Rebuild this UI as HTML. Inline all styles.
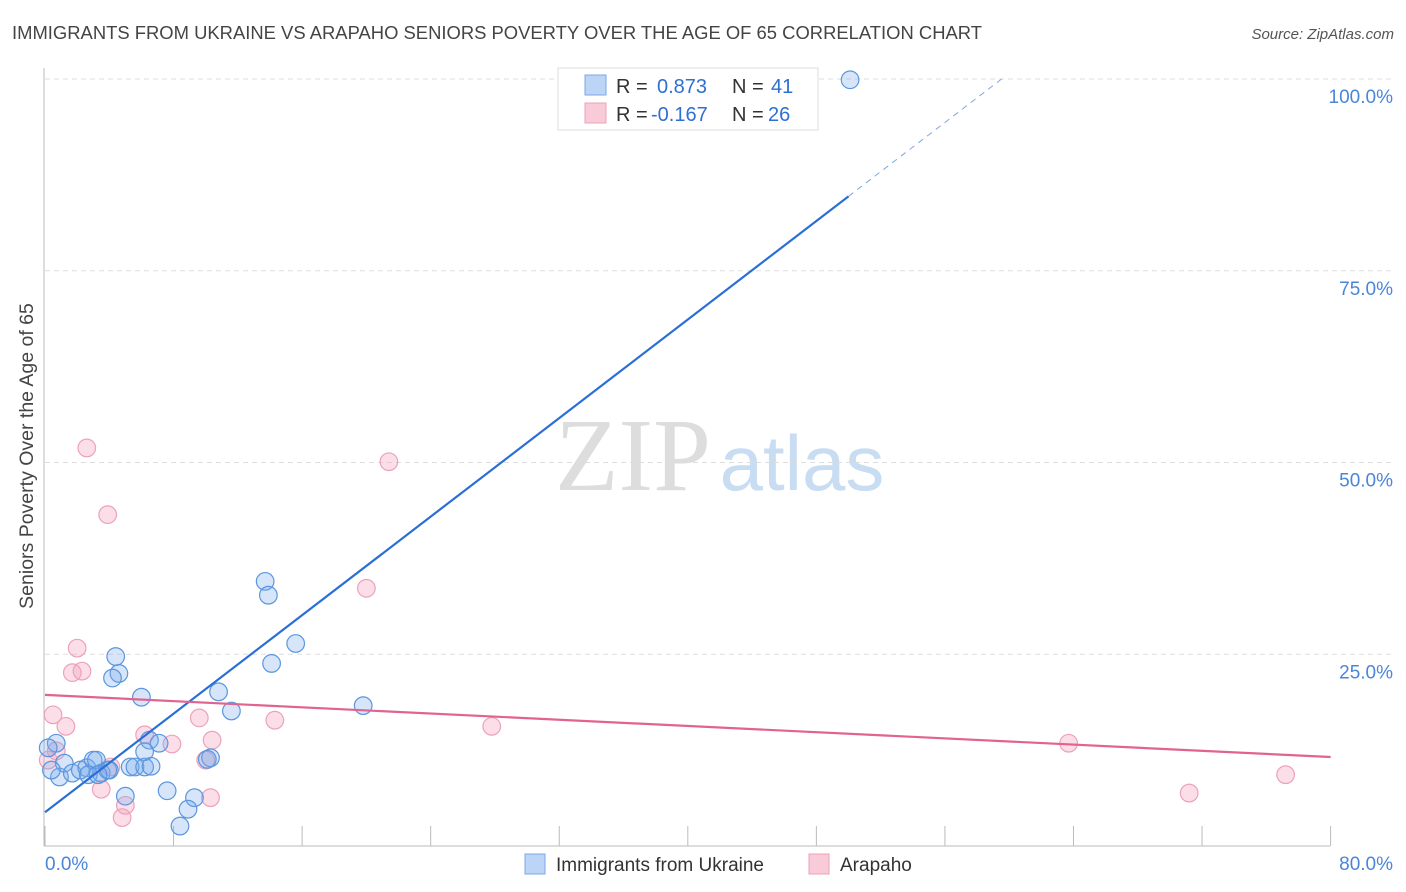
<!DOCTYPE html>
<html><head><meta charset="utf-8"><style>
body{margin:0;background:#fff;font-family:"Liberation Sans",sans-serif;}
svg{display:block}
</style></head><body>
<svg id="c" width="1406" height="892">
<text x="12" y="39" font-size="18" fill="#444" textLength="970" lengthAdjust="spacingAndGlyphs">IMMIGRANTS FROM UKRAINE VS ARAPAHO SENIORS POVERTY OVER THE AGE OF 65 CORRELATION CHART</text>
<text x="1394" y="39" font-size="15" fill="#555" font-style="italic" text-anchor="end">Source: ZipAtlas.com</text>
<text x="33" y="456" font-size="19.5" fill="#444" text-anchor="middle" transform="rotate(-90 33 456)">Seniors Poverty Over the Age of 65</text>
<g><text x="633" y="490" font-size="104" fill="#ddd" font-family="Liberation Serif,serif" text-anchor="middle">ZIP</text><text x="802" y="490" font-size="78" fill="#c8dcf2" text-anchor="middle">atlas</text></g>
<g id="grid"></g><g id="marks"></g>
<g>
<rect x="558" y="68" width="260" height="62" fill="#fff" stroke="#ddd"/>
<rect x="585" y="75" width="21" height="20" fill="#bcd4f5" stroke="#7aa8e6"/>
<rect x="585" y="103" width="21" height="20" fill="#f9cad8" stroke="#eca2bb"/>
<text x="616" y="93" font-size="20" fill="#333">R = <tspan fill="#2f6fd0" x="657">0.873</tspan><tspan x="732" fill="#333">N = </tspan><tspan fill="#2f6fd0" x="771">41</tspan></text>
<text x="616" y="121" font-size="20" fill="#333">R = <tspan fill="#2f6fd0" x="651">-0.167</tspan><tspan x="732" fill="#333">N = </tspan><tspan fill="#2f6fd0" x="768">26</tspan></text>
</g>
<g>
<rect x="525" y="854" width="20" height="20" fill="#bcd4f5" stroke="#7aa8e6"/>
<text x="556" y="871" font-size="19" fill="#333">Immigrants from Ukraine</text>
<rect x="809" y="854" width="20" height="20" fill="#f9cad8" stroke="#eca2bb"/>
<text x="840" y="871" font-size="19" fill="#333">Arapaho</text>
</g>
</svg>
<script>
const blueX=[50.1,13.7,13.9,15.6,14.1,4.4,4.6,4.2,6.0,10.8,11.6,19.8,0.7,0.2,0.9,1.2,1.7,2.2,2.6,3.0,3.2,3.5,3.9,4.0,5.3,5.6,6.2,6.6,6.5,7.1,6.2,7.6,5.0,9.3,8.9,8.4,10.3,10.1,2.7,0.4,3.3];
const blueY=[99.9,34.5,32.7,26.4,23.8,24.7,22.5,21.9,19.4,20.1,17.6,18.3,13.4,12.8,9.0,10.8,9.5,9.9,10.2,11.2,11.2,9.5,9.9,9.9,10.3,10.3,10.3,10.4,13.8,13.4,12.3,7.2,6.5,6.3,4.8,2.6,11.5,11.3,9.3,9.9,9.3];
const pinkX=[2.6,3.9,21.4,20.0,2.0,1.7,2.3,0.5,1.3,9.6,14.3,27.8,6.2,7.9,10.4,0.7,0.2,10.0,3.5,5.0,4.8,10.3,63.7,71.2,77.2,4.1];
const pinkY=[51.9,43.2,50.1,33.6,25.8,22.6,22.8,17.1,15.6,16.7,16.4,15.6,14.5,13.3,13.8,12.4,11.2,11.2,7.4,5.3,3.7,6.3,13.4,6.9,9.3,10.3];
const blueTrend=[4.4,84.7]; // y at x=0 and x=50
const pinkTrend=[19.7,11.6]; // y at x=0 and x=80
const yTicks=[25,50,75,100];
const yTickLabels=["25.0%","50.0%","75.0%","100.0%"];
const xTicks=[0,8,16,24,32,40,48,56,64,72,80];
const NS="http://www.w3.org/2000/svg";
const X=v=>45+v*16.07, Y=v=>846-v*7.67;
function mk(t,a,p){const e=document.createElementNS(NS,t);for(const k in a)e.setAttribute(k,a[k]);p.appendChild(e);return e;}
const g=document.getElementById('grid'), m=document.getElementById('marks');
mk('line',{x1:44,y1:68,x2:44,y2:846,stroke:'#bbb'},g);
mk('line',{x1:44,y1:846,x2:1330,y2:846,stroke:'#bbb'},g);
yTicks.forEach((v,i)=>{
 const l=mk('line',{x1:45,x2:1392,y1:Y(v),y2:Y(v),stroke:'#ddd','stroke-dasharray':'5,4'},g);
 
 
 const t=mk('text',{x:1393,y:Y(v)+24,'font-size':19,fill:'#4a86d8','text-anchor':'end'},g);
 t.textContent=yTickLabels[i];
 
 
});
xTicks.forEach(v=>{
 const l=mk('line',{x1:X(v),x2:X(v),y1:826,y2:846,stroke:'#bbb'},g);
 
 
});
[["0.0%",45,'start'],["80.0%",1393,'end']].forEach(a=>{
 const t=mk('text',{x:a[1],y:870,'font-size':19,fill:'#4a86d8','text-anchor':a[2]},g);
 t.textContent=a[0];
 
 
});
pinkX.forEach((x,i)=>{
 const c=mk('circle',{cx:X(x),cy:Y(pinkY[i]),r:8.8,fill:'rgba(244,160,188,0.35)',stroke:'#eca2bb','stroke-width':1.2},m);
 
 
});
blueX.forEach((x,i)=>{
 const c=mk('circle',{cx:X(x),cy:Y(blueY[i]),r:8.8,fill:'rgba(120,170,235,0.3)',stroke:'#5b96de','stroke-width':1.2},m);
 
 
});
const bs=(blueTrend[1]-blueTrend[0])/50;
const xe=(100-blueTrend[0])/bs;
let l=mk('line',{x1:X(0),y1:Y(blueTrend[0]),x2:X(50),y2:Y(blueTrend[1]),stroke:'#2a6fd6','stroke-width':2.2},m);


l=mk('line',{x1:X(50),y1:Y(blueTrend[1]),x2:X(xe),y2:Y(100),stroke:'#7aa8e6','stroke-width':1,'stroke-dasharray':'6,5'},m);


l=mk('line',{x1:X(0),y1:Y(pinkTrend[0]),x2:X(80),y2:Y(pinkTrend[1]),stroke:'#e0648f','stroke-width':2.2},m);


</script>
</body></html>
